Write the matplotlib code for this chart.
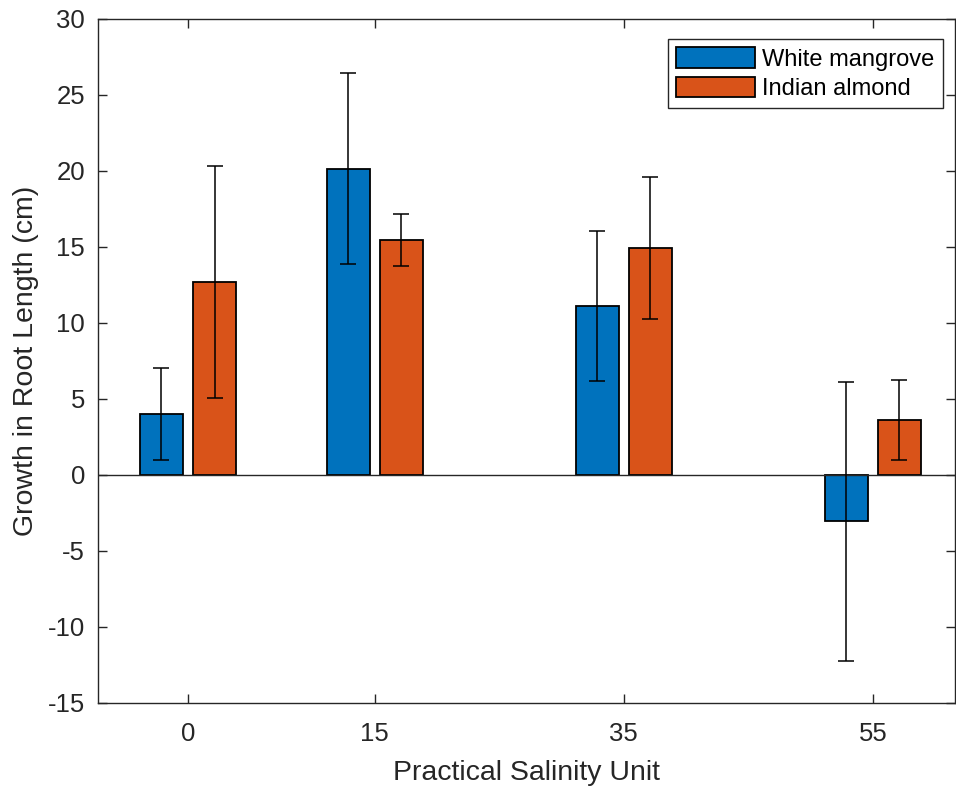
import matplotlib
matplotlib.use("Agg")
import matplotlib.pyplot as plt
import numpy as np

salinity = [0, 15, 35, 55]
series_names = ["White mangrove", "Indian almond"]
white_mangrove = [4.02, 20.15, 11.12, -3.05]
white_mangrove_err = [3.03, 6.27, 4.94, 9.19]
indian_almond = [12.70, 15.46, 14.92, 3.62]
indian_almond_err = [7.62, 1.70, 4.67, 2.62]
yticks = list(range(-15, 31, 5))

plt.rcParams['font.family'] = ['Liberation Sans', 'DejaVu Sans']
axis_color = '#262626'

fig = plt.figure(figsize=(9.56, 7.86), dpi=100)
ax = fig.add_axes([97.5 / 956, 1 - 703 / 786, (955 - 97.5) / 956, (703 - 19) / 786])

offset = 2.13
width = 3.42
x = np.array(salinity, dtype=float)
colors = ['#0072BD', '#D95319']
for vals, errs, sgn, col, name in [
    (white_mangrove, white_mangrove_err, -1, colors[0], series_names[0]),
    (indian_almond, indian_almond_err, 1, colors[1], series_names[1]),
]:
    ax.bar(x + sgn * offset, vals, width=width, color=col, edgecolor='black',
           linewidth=1.3, label=name, zorder=2)
    ax.errorbar(x + sgn * offset, vals, yerr=errs, fmt='none', ecolor='black',
                elinewidth=1.1, capsize=5.6, capthick=1.1, zorder=3)

ax.axhline(0, color='#262626', linewidth=1.0, zorder=2.5)

ax.set_xlim(-7.27, 61.6)
ax.set_ylim(-15, 30)
ax.set_xticks(salinity)
ax.set_xticklabels([str(s) for s in salinity])
ax.set_yticks(yticks)
ax.set_yticklabels([str(t) for t in yticks])

ax.tick_params(axis='both', direction='in', length=6.5, width=1.0,
               colors=axis_color, labelsize=18.5, top=True, right=True)
ax.tick_params(axis='x', pad=14)
ax.tick_params(axis='y', pad=9)
for sp in ax.spines.values():
    sp.set_color(axis_color)
    sp.set_linewidth(1.0)

ax.set_xlabel('Practical Salinity Unit', fontsize=20.5, color=axis_color, labelpad=10)
ax.set_ylabel('Growth in Root Length (cm)', fontsize=20.5, color=axis_color, labelpad=6)

leg = ax.legend(loc='upper right', bbox_to_anchor=(943 / 956, 1 - 39 / 786),
                bbox_transform=fig.transFigure, fontsize=17, frameon=True,
                fancybox=False, edgecolor=axis_color, framealpha=1,
                handlelength=3.35, handleheight=0.93, handletextpad=0.3,
                labelspacing=0.25, borderpad=0.36, borderaxespad=0)
leg.get_frame().set_linewidth(1.0)

fig.savefig('out.png', dpi=100)
